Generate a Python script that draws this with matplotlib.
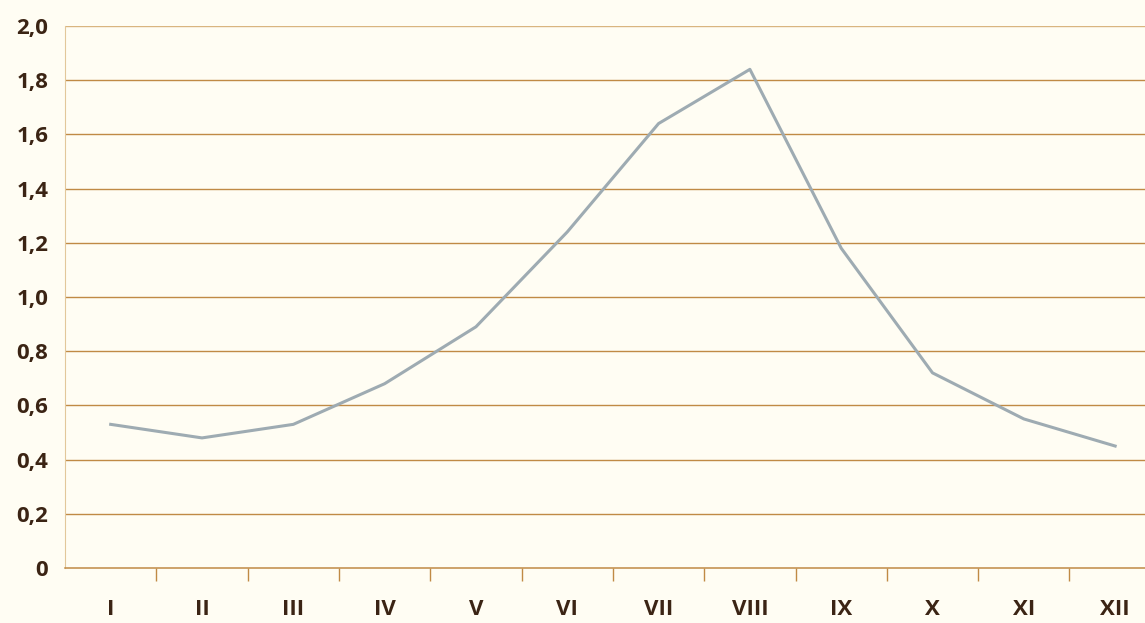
import matplotlib.pyplot as plt
import numpy as np

months = ['I', 'II', 'III', 'IV', 'V', 'VI', 'VII', 'VIII', 'IX', 'X', 'XI', 'XII']
values = [0.53, 0.48, 0.53, 0.68, 0.89, 1.24, 1.64, 1.84, 1.18, 0.72, 0.55, 0.45]
yticks = [0, 0.2, 0.4, 0.6, 0.8, 1.0, 1.2, 1.4, 1.6, 1.8, 2.0]
ylabels = ['0', '0,2', '0,4', '0,6', '0,8', '1,0', '1,2', '1,4', '1,6', '1,8', '2,0']

bg = '#fffdf3'
grid_col = '#c08a45'
text_col = '#3b2414'

plt.rcParams['font.family'] = ['Open Sans', 'DejaVu Sans']

fig = plt.figure(figsize=(11.45, 6.23), dpi=100, facecolor=bg)
ax = fig.add_axes([0.0568, 0.0883, 0.957, 0.870], facecolor=bg)

x = np.arange(len(months))
ax.plot(x, values, color='#9eabb2', linewidth=2.2, zorder=3)

ax.set_xlim(-0.5, len(months) - 0.5)
ax.set_ylim(0, 2.0)
ax.set_yticks(yticks)
ax.set_yticklabels(ylabels)
ax.set_xticks(x)
ax.set_xticklabels(months)
ax.set_xticks(np.arange(0.5, len(months) - 0.5), minor=True)

# horizontal guide lines (top one is lighter in the original)
for yv in yticks[1:]:
    ax.axhline(yv, color=grid_col if yv < 2.0 else '#d9b57f', linewidth=1.0, zorder=1)

for s in ['top', 'right']:
    ax.spines[s].set_visible(False)
ax.spines['left'].set_color('#e2c79a')
ax.spines['left'].set_linewidth(0.8)
ax.spines['bottom'].set_color(grid_col)
ax.spines['bottom'].set_linewidth(1.1)

ax.tick_params(axis='y', length=0, pad=12, labelsize=16, labelcolor=text_col)
ax.tick_params(axis='x', which='major', length=0, pad=22, labelsize=16, labelcolor=text_col)
ax.tick_params(axis='x', which='minor', length=9, width=1.0, color=grid_col, direction='out')
for lab in ax.get_xticklabels() + ax.get_yticklabels():
    lab.set_fontweight('bold')

fig.savefig('out.png', dpi=100, facecolor=bg)
